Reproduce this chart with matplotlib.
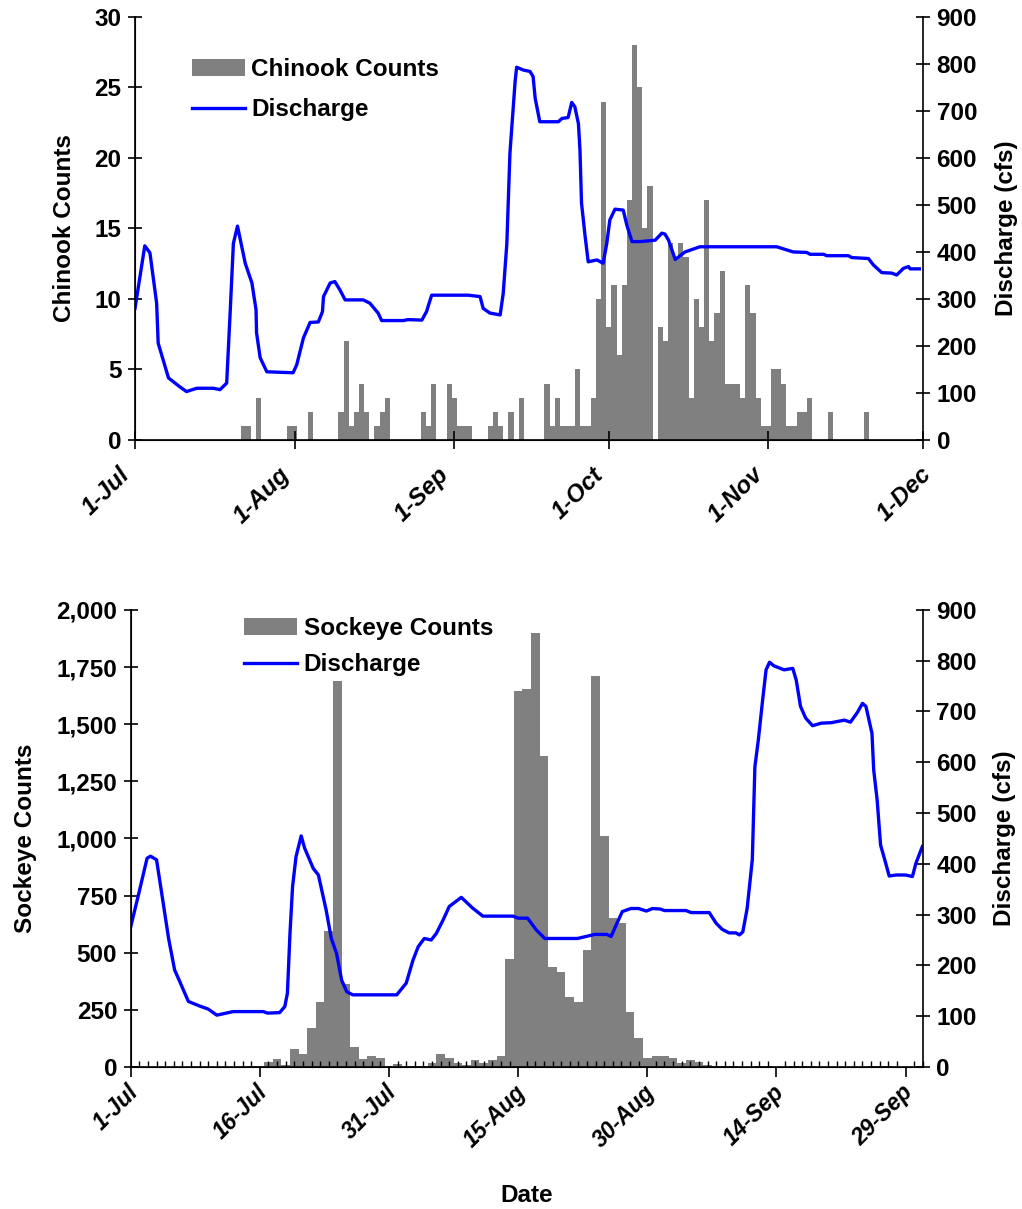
import matplotlib
matplotlib.use("Agg")
import matplotlib.pyplot as plt
from matplotlib.ticker import MultipleLocator, FuncFormatter
from matplotlib.transforms import ScaledTranslation

plt.rcParams['font.family'] = ['Liberation Sans', 'DejaVu Sans']
plt.rcParams['font.weight'] = 'bold'
plt.rcParams['axes.labelweight'] = 'bold'
plt.rcParams['font.size'] = 17

# ---- Chinook (1-Jul .. 1-Dec), day 0 = 1-Jul ----
chinook_days = [21, 22, 24, 30, 31, 34, 40, 41, 42, 43, 44, 45, 47, 48, 49, 56, 57, 58,
                61, 62, 63, 64, 65, 69, 70, 71, 73, 75, 80, 81, 82, 83, 84, 85, 86, 87,
                88, 89, 90, 91, 92, 93, 94, 95, 96, 97, 98, 99, 100, 102, 103, 104, 105,
                106, 107, 108, 109, 110, 111, 112, 113, 114, 115, 116, 117, 118, 119, 120,
                121, 122, 123, 124, 125, 126, 127, 128, 129, 130, 131, 135, 142]
chinook_counts = [1, 1, 3, 1, 1, 2, 2, 7, 1, 2, 4, 2, 1, 2, 3, 2, 1, 4,
                  4, 3, 1, 1, 1, 1, 2, 1, 2, 3, 4, 1, 3, 1, 1, 1, 5, 1,
                  1, 3, 10, 24, 8, 11, 6, 11, 17, 28, 25, 15, 18, 8, 7, 14, 13,
                  14, 13, 3, 10, 8, 17, 7, 9, 12, 4, 4, 4, 3, 11, 9,
                  3, 1, 1, 5, 5, 4, 1, 1, 2, 2, 3, 2, 2]

chinook_q_day = [0, 1.9, 2.9, 4.2, 4.5, 6.5, 8.7, 10.0, 12.0, 15.2, 16.5, 17.8, 18.5, 19.1,
                 19.9, 21.4, 22.7, 23.5, 23.6, 24.3, 25.6, 30.7, 31.4, 32.7, 34.0, 35.6,
                 36.4, 36.6, 37.9, 38.8, 39.8, 40.8, 44.3, 45.6, 47.2, 47.9, 52.1, 53.0,
                 55.7, 56.6, 57.6, 64.7, 67.0, 67.6, 68.9, 70.9, 71.5, 72.2, 72.8, 73.8,
                 74.1, 75.4, 76.7, 77.3, 77.7, 78.6, 82.2, 82.9, 84.1, 84.8, 85.4, 86.1,
                 86.4, 86.7, 87.4, 88.0, 89.7, 90.9, 91.6, 92.2, 93.2, 94.8, 95.5, 96.5,
                 98.1, 101.0, 102.3, 102.9, 103.6, 104.9, 106.8, 109.7, 124.6, 127.8,
                 130.4, 131.1, 133.7, 134.3, 138.5, 139.2, 142.4, 143.4, 145.0, 146.9,
                 147.9, 149.2, 150.2, 150.5, 152.3]
chinook_q_cfs = [280, 413, 398, 291, 206, 132, 113, 103, 110, 110, 107, 121, 277, 418,
                 455, 376, 334, 277, 228, 175, 145, 143, 160, 217, 250, 251,
                 273, 305, 334, 337, 319, 298, 298, 291, 270, 254, 254, 256,
                 255, 273, 308, 308, 305, 280, 270, 266, 312, 418, 610, 762,
                 793, 787, 784, 773, 727, 677, 677, 684, 686, 718, 709, 673,
                 617, 504, 433, 379, 383, 376, 418, 468, 491, 489, 457, 422,
                 422, 425, 440, 438, 425, 384, 400, 411, 411, 400,
                 399, 395, 395, 392, 392, 388, 386, 372, 356, 355,
                 351, 365, 369, 364, 364]

chinook_tick_days = [0, 31, 62, 92, 123, 153]
chinook_tick_labels = ['1-Jul', '1-Aug', '1-Sep', '1-Oct', '1-Nov', '1-Dec']

# ---- Sockeye (1-Jul .. 1-Oct), day 0 = 1-Jul ----
sockeye_days = list(range(14, 71)) + [73, 74, 77, 78, 79, 86, 87, 88]
sockeye_counts = [3, 5, 20, 35, 10, 80, 55, 170, 285, 595, 1690, 362, 88, 35, 47, 38,
                  4, 13, 3, 2, 5, 16, 56, 38, 16, 9, 31, 16, 31, 48, 473, 1647, 1654,
                  1898, 1361, 439, 417, 306, 283, 512, 1711, 1011, 652, 628, 241, 128,
                  40, 48, 48, 38, 16, 31, 23, 9, 4, 2, 3,
                  3, 2, 2, 3, 2, 2, 3, 2]

sockeye_q_day = [0, 0.9, 1.9, 2.3, 3.0, 3.6, 4.4, 5.1, 5.7, 6.7, 8.0, 9.0, 10.0, 11.9,
                 15.4, 15.9, 17.3, 17.9, 18.2, 18.5, 18.8, 19.2, 19.8, 20.2, 21.2, 21.8,
                 22.7, 23.3, 23.9, 24.5, 25.1, 25.8, 30.9, 32.0, 32.8, 33.4, 34.1, 34.9,
                 35.5, 36.3, 37.0, 38.4, 39.7, 40.9, 44.4, 45.0, 46.1, 47.1, 48.1, 51.9,
                 53.9, 55.3, 55.8, 56.4, 57.1, 58.1, 59.0, 59.9, 60.6, 61.5, 62.0, 64.5,
                 65.1, 67.2, 68.0, 68.7, 69.5, 70.3, 70.7, 71.1, 71.6, 72.2, 72.5, 72.9,
                 73.4, 73.8, 74.2, 74.7, 75.9, 76.9, 77.3, 77.8, 78.4, 79.2, 80.2, 81.4,
                 82.9, 83.6, 84.4, 85.0, 85.4, 86.1, 86.3, 86.7, 87.1, 87.7, 88.1, 88.9,
                 90.0, 90.8, 91.2, 91.95]
sockeye_q_cfs = [276, 339, 411, 415, 408, 342, 253, 191, 168, 129, 120, 114, 102, 109,
                 109, 106, 107, 119, 145, 263, 355, 414, 455, 431, 391, 378,
                 309, 253, 224, 171, 148, 142, 142, 165, 211, 237, 253, 250,
                 263, 290, 316, 334, 313, 297, 297, 293, 293, 270, 253, 253,
                 261, 261, 257, 280, 306, 312, 312, 307, 312, 311, 308, 308,
                 304, 304, 283, 271, 264, 264, 260, 266, 312, 408, 591, 644,
                 723, 782, 797, 790, 782, 785, 762, 710, 687, 672, 677, 678,
                 683, 679, 698, 716, 710, 657, 585, 526, 437, 401, 376, 378,
                 378, 375, 401, 434]

sockeye_tick_days = [0, 15, 30, 45, 60, 75, 90]
sockeye_tick_labels = ['1-Jul', '16-Jul', '31-Jul', '15-Aug', '30-Aug', '14-Sep', '29-Sep']

BAR = '#808080'
LINE = '#0000FF'
FS = 17.5

fig = plt.figure(figsize=(10.22, 12.09), dpi=100)


def style_axes(ax, ax2):
    ax.spines['top'].set_visible(False)
    ax2.spines['top'].set_visible(False)
    ax.spines['right'].set_visible(False)
    for sp in ['left', 'bottom']:
        ax.spines[sp].set_linewidth(1.2)
    ax2.spines['right'].set_linewidth(1.2)
    ax.tick_params(axis='y', direction='inout', length=9.5, width=1.2, labelsize=FS, pad=5)
    ax2.tick_params(axis='y', direction='inout', length=9.5, width=1.2, labelsize=FS, pad=5)


def shift_labels(ax, dx_px, dy_px, last_dx=None):
    labels = ax.get_xticklabels()
    for i, lab in enumerate(labels):
        dx = dx_px
        if last_dx is not None and i == len(labels) - 1:
            dx = last_dx
        lab.set_transform(lab.get_transform() +
                          ScaledTranslation(dx / 100, dy_px / 100, fig.dpi_scale_trans))


# ---------------- top: Chinook ----------------
ax = fig.add_axes([0.1321, 0.6361, 0.7710, 0.3499])
ax.bar(chinook_days, chinook_counts, width=1.0, color=BAR, linewidth=0, label='Chinook Counts')
ax.set_xlim(0, 153)
ax.set_ylim(0, 30)
ax.set_yticks(range(0, 31, 5))
ax.set_xticks(chinook_tick_days)
ax.set_xticklabels(chinook_tick_labels, rotation=45, ha='right', rotation_mode='anchor',
                   style='italic', fontsize=FS)
ax.tick_params(axis='x', direction='inout', length=13, width=1.2, pad=10)
ax.set_ylabel('Chinook Counts', fontsize=FS, labelpad=13)

ax2 = ax.twinx()
ax2.plot(chinook_q_day, chinook_q_cfs, color=LINE, lw=2.4, label='Discharge')
ax2.set_ylim(0, 900)
ax2.set_yticks(range(0, 901, 100))
ax2.set_ylabel('Discharge (cfs)', fontsize=FS, labelpad=13)
style_axes(ax, ax2)
shift_labels(ax, -17, 0, last_dx=-3)
h1, l1 = ax.get_legend_handles_labels()
h2, l2 = ax2.get_legend_handles_labels()
ax2.legend(h1 + h2, l1 + l2, loc='upper left', bbox_to_anchor=(0.072, 0.902),
           frameon=False, fontsize=FS, borderpad=0, borderaxespad=0,
           handlelength=2.2, handletextpad=0.25, labelspacing=0.7, handleheight=0.7)

# ---------------- bottom: Sockeye ----------------
bx = fig.add_axes([0.1279, 0.1175, 0.7750, 0.3780])
bx.bar(sockeye_days, sockeye_counts, width=1.0, color=BAR, linewidth=0, label='Sockeye Counts')
bx.set_xlim(0, 92)
bx.set_ylim(0, 2000)
bx.set_yticks(range(0, 2001, 250))
bx.yaxis.set_major_formatter(FuncFormatter(lambda v, p: f'{int(v):,}'))
bx.set_xticks(sockeye_tick_days)
bx.set_xticklabels(sockeye_tick_labels, rotation=45, ha='right', rotation_mode='anchor',
                   style='italic', fontsize=16.5)
bx.xaxis.set_minor_locator(MultipleLocator(1))
bx.tick_params(axis='x', which='major', direction='out', length=7, width=1.2, pad=3)
bx.tick_params(axis='x', which='minor', direction='in', length=4.5, width=1.0)
bx.set_ylabel('Sockeye Counts', fontsize=FS, labelpad=14)
bx.set_xlabel('Date', fontsize=FS, labelpad=23)

bx2 = bx.twinx()
bx2.plot(sockeye_q_day, sockeye_q_cfs, color=LINE, lw=2.4, label='Discharge')
bx2.set_ylim(0, 900)
bx2.set_yticks(range(0, 901, 100))
bx2.set_ylabel('Discharge (cfs)', fontsize=FS, labelpad=12)
style_axes(bx, bx2)
shift_labels(bx, -4, 0)
h1, l1 = bx.get_legend_handles_labels()
h2, l2 = bx2.get_legend_handles_labels()
bx2.legend(h1 + h2, l1 + l2, loc='upper left', bbox_to_anchor=(0.143, 0.985),
           frameon=False, fontsize=FS, borderpad=0, borderaxespad=0,
           handlelength=2.2, handletextpad=0.25, labelspacing=0.55, handleheight=0.7)

fig.savefig('out.png', dpi=100)
